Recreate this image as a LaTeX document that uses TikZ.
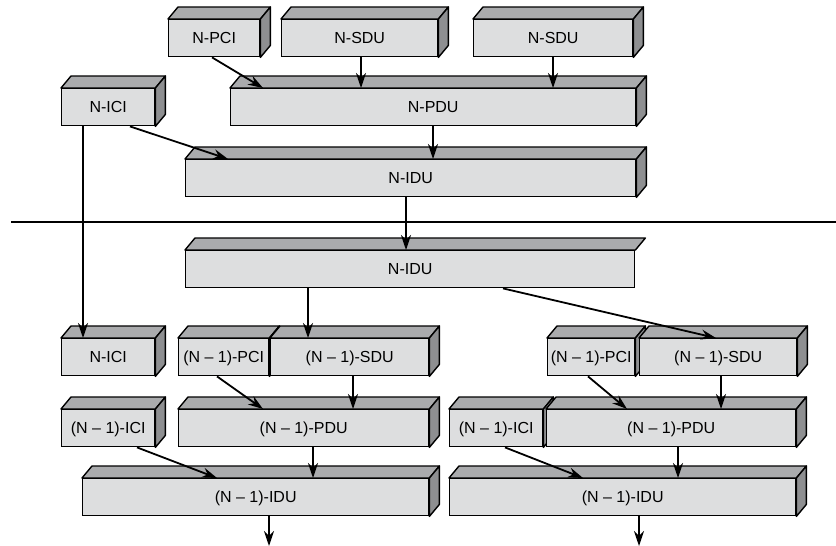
\documentclass[tikz,border=0pt]{standalone}
\usepackage{fontspec}
\setmainfont{Liberation Sans}
\usetikzlibrary{arrows.meta}
\definecolor{facegray}{RGB}{221,222,223}
\definecolor{lidgray}{RGB}{170,171,173}
\definecolor{sidegray}{RGB}{142,143,145}

\tikzset{
	unit/.style = {draw=black, fill=facegray, line width=1.4pt, anchor=north west,
		minimum height=37pt, inner sep=0pt, text height=11.5pt, text depth=0pt,
		font=\fontsize{16}{16}\selectfont},
	lid/.style = {unit, append after command={\pgfextra{
		\draw[line width=1.4pt, line join=round, fill=lidgray] (\tikzlastnode.north west)
			-- ++(10pt,12pt) -- ([shift={(10pt,12pt)}]\tikzlastnode.north east)
			-- (\tikzlastnode.north east) -- cycle;}}},
	block/.style = {lid, append after command={\pgfextra{
		\draw[line width=1.4pt, line join=round, fill=sidegray] (\tikzlastnode.north east)
			-- ++(10pt,12pt) -- ([shift={(10pt,12pt)}]\tikzlastnode.south east)
			-- (\tikzlastnode.south east) -- cycle;}}},
	flow/.style = {line width=1.8pt, -{Stealth[length=15pt,width=10pt,inset=5pt]}}
}

\begin{document}
\begin{tikzpicture}[x=1pt, y=-1pt]
	\useasboundingbox (0,0) rectangle (836,546);
	% layer N
	\node[block, minimum width=91pt] (pci) at (168,19) {N-PCI};
	\node[block, minimum width=156pt] (sdu1) at (281,19) {N-SDU};
	\node[block, minimum width=159pt] (sdu2) at (473,19) {N-SDU};
	\node[block, minimum width=93pt] (ici) at (61,88) {N-ICI};
	\node[block, minimum width=405pt] (pdu) at (230,88) {N-PDU};
	\node[block, minimum width=450pt] (idu) at (185,159) {N-IDU};
	% layer boundary
	\coordinate (cutL) at (11,222);
	\coordinate (cutR) at (836,222);
	\draw[line width=1.3pt] (cutL) -- (cutR);
	% layer N-1
	\node[lid, minimum width=449pt] (iduB) at (185,250) {N-IDU};
	\node[block, minimum width=93pt] (iciB) at (61,338) {N-ICI};
	\node[block, minimum width=90pt] (pciL) at (178,338) {(N – 1)-PCI};
	\node[block, minimum width=158pt] (sduL) at (270,338) {(N – 1)-SDU};
	\node[block, minimum width=93pt] (iciL) at (61,409) {(N – 1)-ICI};
	\node[block, minimum width=250pt] (pduL) at (178,409) {(N – 1)-PDU};
	\node[block, minimum width=346pt] (iduL) at (82,478) {(N – 1)-IDU};
	\node[block, minimum width=87pt] (pciR) at (547,338) {(N – 1)-PCI};
	\node[block, minimum width=157pt] (sduR) at (639,338) {(N – 1)-SDU};
	\node[block, minimum width=93pt] (iciR) at (449,409) {(N – 1)-ICI};
	\node[block, minimum width=249pt] (pduR) at (546,409) {(N – 1)-PDU};
	\node[block, minimum width=346pt] (iduR) at (449,478) {(N – 1)-IDU};
	\coordinate (outL) at (269,546);
	\coordinate (outR) at (639,546);
	% arrows
	\draw[flow] ([xshift=44pt]pci.south west) -- ([xshift=33pt]pdu.north west);
	\draw[flow] ([xshift=80pt]sdu1.south west) -- ([xshift=131pt]pdu.north west);
	\draw[flow] ([xshift=80pt]sdu2.south west) -- ([xshift=323pt]pdu.north west);
	\draw[flow] ([xshift=203pt]pdu.south west) -- ([xshift=248pt]idu.north west);
	\draw[flow] ([xshift=69pt]ici.south west) -- ([xshift=43pt]idu.north west);
	\draw[flow] ([xshift=22pt]ici.south west) -- ([xshift=22pt]iciB.north west);
	\draw[flow] ([xshift=221pt]idu.south west) -- ([xshift=221pt]iduB.north west);
	\draw[flow] ([xshift=123pt]iduB.south west) -- ([xshift=38pt]sduL.north west);
	\draw[flow] ([xshift=318pt]iduB.south west) -- ([xshift=77pt]sduR.north west);
	\draw[flow] ([xshift=39pt]pciL.south west) -- ([xshift=85pt]pduL.north west);
	\draw[flow] ([xshift=83pt]sduL.south west) -- ([xshift=175pt]pduL.north west);
	\draw[flow] ([xshift=76pt]iciL.south west) -- ([xshift=135pt]iduL.north west);
	\draw[flow] ([xshift=135pt]pduL.south west) -- ([xshift=231pt]iduL.north west);
	\draw[flow] ([xshift=187pt]iduL.south west) -- (outL);
	\draw[flow] ([xshift=41pt]pciR.south west) -- ([xshift=81pt]pduR.north west);
	\draw[flow] ([xshift=82pt]sduR.south west) -- ([xshift=175pt]pduR.north west);
	\draw[flow] ([xshift=56pt]iciR.south west) -- ([xshift=134pt]iduR.north west);
	\draw[flow] ([xshift=132pt]pduR.south west) -- ([xshift=229pt]iduR.north west);
	\draw[flow] ([xshift=190pt]iduR.south west) -- (outR);
\end{tikzpicture}
\end{document}
